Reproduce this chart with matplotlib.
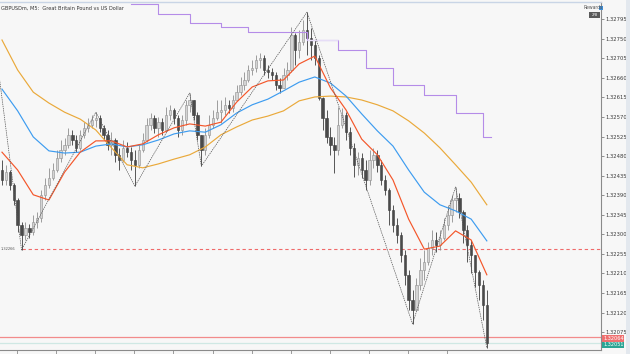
import matplotlib
matplotlib.use("Agg")
import matplotlib.pyplot as plt
from matplotlib.patches import Rectangle
import numpy as np

symbol_title = "GBPUSDm, M5:  Great Britain Pound vs US Dollar"

first_open = 1.32448
closes = [1.32425, 1.32443, 1.32414, 1.32379, 1.32322, 1.32299, 1.32315, 1.32305, 1.32328, 1.32338,
          1.32391, 1.32414, 1.32430, 1.32448, 1.32476, 1.32494, 1.32506, 1.32529, 1.32517, 1.32499,
          1.32529, 1.32545, 1.32552, 1.32563, 1.32568, 1.32545, 1.32529, 1.32506, 1.32517, 1.32483,
          1.32471, 1.32499, 1.32489, 1.32471, 1.32460, 1.32494, 1.32517, 1.32552, 1.32568, 1.32545,
          1.32558, 1.32540, 1.32575, 1.32586, 1.32568, 1.32540, 1.32563, 1.32598, 1.32609, 1.32575,
          1.32529, 1.32494, 1.32529, 1.32552, 1.32568, 1.32581, 1.32586, 1.32598, 1.32591, 1.32609,
          1.32627, 1.32644, 1.32655, 1.32678, 1.32683, 1.32701, 1.32706, 1.32678, 1.32673, 1.32667,
          1.32644, 1.32637, 1.32667, 1.32678, 1.32759, 1.32724, 1.32742, 1.32770, 1.32752, 1.32736,
          1.32706, 1.32614, 1.32568, 1.32524, 1.32506, 1.32494, 1.32552, 1.32575, 1.32535, 1.32499,
          1.32460, 1.32476, 1.32448, 1.32425, 1.32471, 1.32483, 1.32460, 1.32425, 1.32402, 1.32356,
          1.32322, 1.32299, 1.32253, 1.32207, 1.32149, 1.32126, 1.32184, 1.32218, 1.32236, 1.32269,
          1.32287, 1.32276, 1.32292, 1.32322, 1.32345, 1.32379, 1.32384, 1.32351, 1.32310, 1.32276,
          1.32253, 1.32213, 1.32184, 1.32138, 1.32051]
highs = [1.32471, 1.32460, 1.32448, 1.32418, 1.32384, 1.32328, 1.32328, 1.32324, 1.32345, 1.32351,
         1.32402, 1.32430, 1.32453, 1.32464, 1.32494, 1.32517, 1.32522, 1.32545, 1.32540, 1.32529,
         1.32540, 1.32558, 1.32568, 1.32575, 1.32581, 1.32575, 1.32552, 1.32540, 1.32535, 1.32522,
         1.32499, 1.32517, 1.32512, 1.32501, 1.32494, 1.32506, 1.32533, 1.32568, 1.32579, 1.32575,
         1.32570, 1.32568, 1.32593, 1.32598, 1.32591, 1.32575, 1.32575, 1.32609, 1.32625, 1.32609,
         1.32581, 1.32529, 1.32545, 1.32575, 1.32586, 1.32609, 1.32609, 1.32616, 1.32609, 1.32620,
         1.32644, 1.32662, 1.32673, 1.32689, 1.32701, 1.32712, 1.32717, 1.32712, 1.32689, 1.32683,
         1.32673, 1.32660, 1.32683, 1.32696, 1.32777, 1.32763, 1.32770, 1.32793, 1.32811, 1.32775,
         1.32747, 1.32712, 1.32616, 1.32586, 1.32547, 1.32524, 1.32593, 1.32591, 1.32581, 1.32547,
         1.32510, 1.32489, 1.32487, 1.32471, 1.32494, 1.32499, 1.32494, 1.32471, 1.32437, 1.32407,
         1.32368, 1.32338, 1.32305, 1.32264, 1.32218, 1.32172, 1.32200, 1.32246, 1.32264, 1.32282,
         1.32310, 1.32305, 1.32310, 1.32338, 1.32368, 1.32391, 1.32409, 1.32395, 1.32356, 1.32322,
         1.32287, 1.32253, 1.32218, 1.32195, 1.32172]
lows = [1.32414, 1.32414, 1.32402, 1.32368, 1.32305, 1.32264, 1.32287, 1.32292, 1.32299, 1.32315,
        1.32328, 1.32379, 1.32407, 1.32425, 1.32443, 1.32466, 1.32483, 1.32499, 1.32506, 1.32489,
        1.32494, 1.32522, 1.32535, 1.32545, 1.32547, 1.32535, 1.32517, 1.32494, 1.32483, 1.32466,
        1.32448, 1.32466, 1.32478, 1.32448, 1.32411, 1.32453, 1.32489, 1.32512, 1.32540, 1.32533,
        1.32524, 1.32529, 1.32535, 1.32563, 1.32554, 1.32524, 1.32529, 1.32552, 1.32581, 1.32563,
        1.32517, 1.32457, 1.32483, 1.32522, 1.32545, 1.32563, 1.32556, 1.32575, 1.32579, 1.32581,
        1.32609, 1.32620, 1.32632, 1.32650, 1.32667, 1.32673, 1.32683, 1.32667, 1.32660, 1.32655,
        1.32632, 1.32625, 1.32637, 1.32655, 1.32673, 1.32689, 1.32706, 1.32736, 1.32712, 1.32701,
        1.32689, 1.32609, 1.32540, 1.32510, 1.32483, 1.32441, 1.32483, 1.32545, 1.32517, 1.32483,
        1.32432, 1.32437, 1.32430, 1.32402, 1.32414, 1.32453, 1.32443, 1.32414, 1.32391, 1.32322,
        1.32305, 1.32280, 1.32236, 1.32184, 1.32126, 1.32094, 1.32138, 1.32172, 1.32195, 1.32230,
        1.32253, 1.32259, 1.32264, 1.32287, 1.32310, 1.32328, 1.32351, 1.32338, 1.32280, 1.32236,
        1.32211, 1.32179, 1.32149, 1.32103, 1.32039]

# moving averages read every 4 bars
ma_bars = list(range(0, 125, 4))
ma_fast = [1.32489, 1.32448, 1.32391, 1.32379, 1.32443, 1.32489, 1.32515, 1.32515, 1.32501, 1.32508,
           1.32529, 1.32545, 1.32554, 1.32549, 1.32558, 1.32604, 1.32639, 1.32653, 1.32655, 1.32692,
           1.32710, 1.32637, 1.32586, 1.32519, 1.32483, 1.32425, 1.32335, 1.32266, 1.32273, 1.32308,
           1.32287, 1.32207]
ma_mid = [1.32634, 1.32584, 1.32524, 1.32492, 1.32487, 1.32489, 1.32503, 1.32508, 1.32501, 1.32506,
          1.32517, 1.32531, 1.32538, 1.32535, 1.32552, 1.32579, 1.32598, 1.32611, 1.32630, 1.32650,
          1.32662, 1.32648, 1.32618, 1.32577, 1.32538, 1.32503, 1.32448, 1.32397, 1.32368, 1.32354,
          1.32335, 1.32285]
ma_slow = [1.32747, 1.32678, 1.32627, 1.32602, 1.32581, 1.32565, 1.32540, 1.32499, 1.32460, 1.32453,
           1.32462, 1.32473, 1.32483, 1.32501, 1.32529, 1.32547, 1.32563, 1.32572, 1.32584, 1.32607,
           1.32616, 1.32618, 1.32616, 1.32609, 1.32598, 1.32584, 1.32561, 1.32533, 1.32499, 1.32460,
           1.32420, 1.32368]

zigzag_bars = [-1, 5, 24, 34, 48, 51, 78, 105, 116, 124]
zigzag_prices = [1.32683, 1.32264, 1.32581, 1.32411, 1.32625, 1.32457, 1.32811, 1.32094, 1.32409, 1.32039]

step_bars = [33, 40, 48, 56, 63, 78, 86, 93, 100, 108, 116, 123, 125]
step_prices = [1.32830, 1.32807, 1.32786, 1.32777, 1.32765, 1.32747, 1.32724, 1.32683,
               1.32644, 1.32620, 1.32579, 1.32524]

level_price = 1.32266
ask_price = 1.32064
bid_price = 1.32051

price_ticks = ["1.32075", "1.32120", "1.32165", "1.32210", "1.32255", "1.32300", "1.32345",
               "1.32390", "1.32435", "1.32480", "1.32525", "1.32570", "1.32615", "1.32660",
               "1.32705", "1.32750", "1.32795"]

BG = "#f7f7f7"
W, H = 630, 354
fig = plt.figure(figsize=(W / 100, H / 100), dpi=100, facecolor=BG)
ax = fig.add_axes([0, 4 / H, 601 / W, 348 / H], facecolor=BG)

n = len(closes)
opens = [first_open] + closes[:-1]
for i in range(n):
    o, c = opens[i], closes[i]
    hi = max(highs[i], o, c)
    lo = min(lows[i], o, c)
    bull = c >= o
    edge = "#8e8e8e" if bull else "#3c3c3c"
    face = "#d4d4d4" if bull else "#4a4a4a"
    ax.vlines(i, lo, hi, color=edge, lw=0.6, zorder=3)
    ax.add_patch(Rectangle((i - 0.3, min(o, c)), 0.6, max(abs(c - o), 0.000015),
                           facecolor=face, edgecolor=edge, lw=0.4, zorder=4))

ax.plot(ma_bars, ma_slow, color="#eaa93a", lw=0.85, zorder=5)
ax.plot(ma_bars, ma_mid, color="#3d9cf0", lw=0.85, zorder=5)
ax.plot(ma_bars, ma_fast, color="#f4562a", lw=0.85, zorder=5)

ax.plot(zigzag_bars, zigzag_prices, color="#555555", lw=0.5, ls=(0, (2, 1.2)), zorder=6)

ax.step(step_bars, step_prices + [step_prices[-1]], where="post", color="#b58ce8", lw=0.8, zorder=5)
ax.hlines(step_prices[5], step_bars[5], step_bars[6], color="#e6ddf7", lw=1.0, zorder=5)

ax.hlines(level_price, 5, 160, colors="#f06a6a", lw=0.8, linestyles=(0, (3, 2.5)), zorder=2)
ax.axhline(ask_price, color="#f28b8b", lw=0.9, zorder=2)
ax.axhline(bid_price, color="#cfe8e4", lw=0.9, zorder=2)

ax.set_xlim(-0.51, 153.2)
ax.set_ylim(1.32034, 1.328344)

ax.yaxis.tick_right()
ax.set_yticks([float(t) for t in price_ticks])
ax.set_yticklabels(price_ticks)
ax.tick_params(axis="y", length=2, width=0.5, pad=1, colors="#666666", labelsize=3.8,
               labelcolor="#3a3a3a")
ax.set_xticks(np.arange(3.85, 119, 10))
ax.set_xticklabels([])
ax.tick_params(axis="x", length=3, width=0.5, colors="#777777")

ax.spines["left"].set_visible(False)
ax.spines["right"].set_color("#8a8a8a")
ax.spines["right"].set_linewidth(0.8)
ax.spines["bottom"].set_color("#8a8a8a")
ax.spines["bottom"].set_linewidth(0.8)
ax.spines["top"].set_color("#c9d5e6")
ax.spines["top"].set_linewidth(1.0)

# price boxes on the right scale
fig.patches.append(Rectangle((602 / W, 1 - 341.5 / H), 22 / W, 6.5 / H, transform=fig.transFigure,
                             facecolor="#ef6f6f", edgecolor="none"))
fig.text(603.5 / W, 1 - 338.3 / H, f"{ask_price:.5f}", fontsize=3.6, color="white", va="center")
fig.patches.append(Rectangle((602 / W, 1 - 348 / H), 22 / W, 6.5 / H, transform=fig.transFigure,
                             facecolor="#2aa594", edgecolor="none"))
fig.text(603.5 / W, 1 - 344.8 / H, f"{bid_price:.5f}", fontsize=3.6, color="white", va="center")

# right window edge
fig.patches.append(Rectangle((626 / W, 0), 4 / W, 1, transform=fig.transFigure,
                             facecolor="#e3e8ee", edgecolor="none"))

# header texts
fig.text(1 / W, 1 - 8 / H, symbol_title, fontsize=3.6, color="#333333", va="center")
fig.text(583 / W, 1 - 7.5 / H, "Rewards", fontsize=3.3, color="#555555", va="center")
fig.patches.append(Rectangle((599 / W, 1 - 10 / H), 4 / W, 4 / H, transform=fig.transFigure,
                             facecolor="#3f8fd8", edgecolor="none"))
fig.patches.append(Rectangle((589 / W, 1 - 18 / H), 11 / W, 6 / H, transform=fig.transFigure,
                             facecolor="#5a5a5a", edgecolor="none"))
fig.text(594.5 / W, 1 - 15 / H, "2/8", fontsize=2.8, color="white", va="center", ha="center")
fig.text(0.5 / W, 1 - 249 / H, f"{level_price:.5f}", fontsize=2.6, color="#555555", va="center")

fig.savefig("out.png", dpi=100, facecolor=BG)
